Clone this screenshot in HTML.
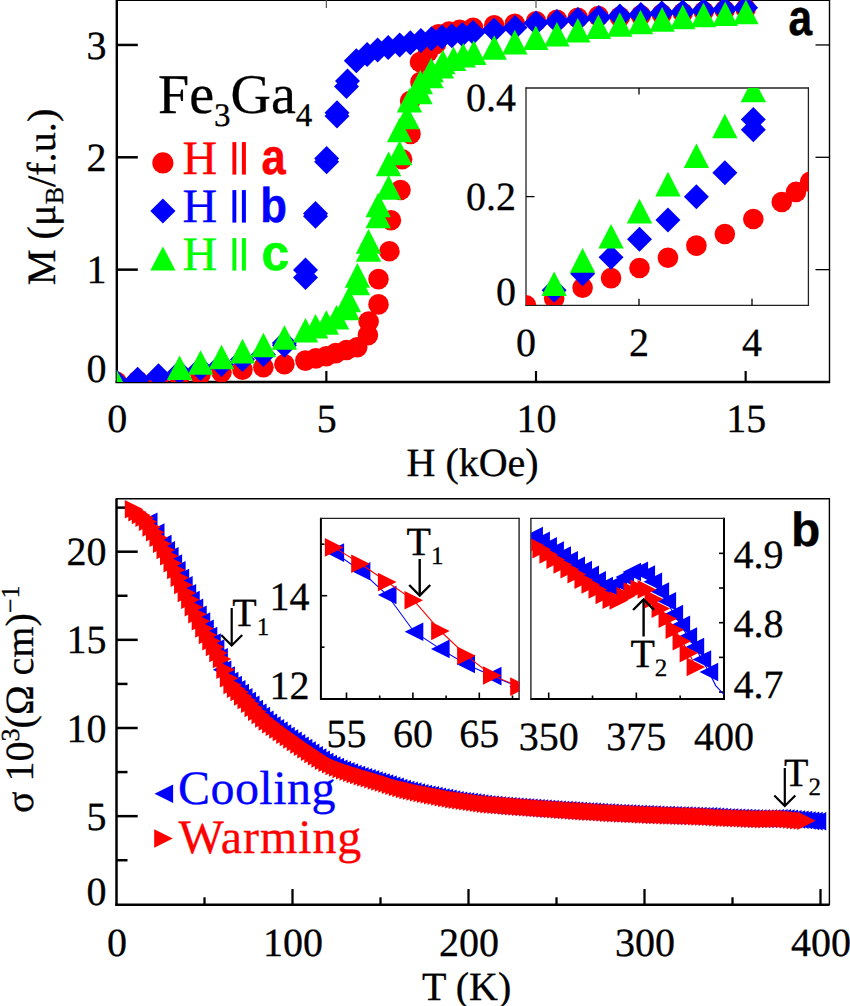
<!DOCTYPE html>
<html><head><meta charset="utf-8"><style>
html,body{margin:0;padding:0;background:#fff;}
svg{display:block;text-rendering:geometricPrecision;}
</style></head><body>
<svg width="850" height="1006" viewBox="0 0 850 1006">
<rect width="850" height="1006" fill="#fff"/>
<defs><clipPath id="ca"><rect x="116.8" y="0" width="712.7" height="382"/></clipPath><clipPath id="cai"><rect x="526" y="88" width="282.5" height="217"/></clipPath><clipPath id="cb"><rect x="116.5" y="498.5" width="712.5" height="406"/></clipPath><clipPath id="cb1"><rect x="320.9" y="518.5" width="198.2" height="180.5"/></clipPath><clipPath id="cb2"><rect x="531.2" y="518" width="192.8" height="181"/></clipPath></defs>
<line x1="116.8" y1="0" x2="116.8" y2="383.1" stroke="#000" stroke-width="2.4"/>
<line x1="115.6" y1="382" x2="830" y2="382" stroke="#000" stroke-width="2.4"/>
<line x1="829.5" y1="0" x2="829.5" y2="383" stroke="#000" stroke-width="1.4"/>
<line x1="116" y1="0.4" x2="830" y2="0.4" stroke="#000" stroke-width="1.4"/>
<line x1="116.8" y1="269.65" x2="137.8" y2="269.65" stroke="#000" stroke-width="2.5"/>
<line x1="815.5" y1="269.65" x2="829.5" y2="269.65" stroke="#000" stroke-width="1.3"/>
<line x1="116.8" y1="157.3" x2="137.8" y2="157.3" stroke="#000" stroke-width="2.5"/>
<line x1="815.5" y1="157.3" x2="829.5" y2="157.3" stroke="#000" stroke-width="1.3"/>
<line x1="116.8" y1="44.95" x2="137.8" y2="44.95" stroke="#000" stroke-width="2.5"/>
<line x1="815.5" y1="44.95" x2="829.5" y2="44.95" stroke="#000" stroke-width="1.3"/>
<line x1="326.35" y1="382" x2="326.35" y2="371" stroke="#000" stroke-width="2.2"/>
<line x1="326.35" y1="0" x2="326.35" y2="8" stroke="#555" stroke-width="1.2"/>
<line x1="536" y1="382" x2="536" y2="371" stroke="#000" stroke-width="2.2"/>
<line x1="536" y1="0" x2="536" y2="8" stroke="#555" stroke-width="1.2"/>
<line x1="745.65" y1="382" x2="745.65" y2="371" stroke="#000" stroke-width="2.2"/>
<line x1="745.65" y1="0" x2="745.65" y2="8" stroke="#555" stroke-width="1.2"/>
<g clip-path="url(#ca)">
<circle cx="116.6" cy="381.9" r="10.3" fill="#ff0000"/>
<circle cx="137.6" cy="380.9" r="10.3" fill="#ff0000"/>
<circle cx="158.6" cy="378.7" r="10.3" fill="#ff0000"/>
<circle cx="179.5" cy="376.6" r="10.3" fill="#ff0000"/>
<circle cx="200.5" cy="374.5" r="10.3" fill="#ff0000"/>
<circle cx="221.5" cy="372.3" r="10.3" fill="#ff0000"/>
<circle cx="242.5" cy="369.8" r="10.3" fill="#ff0000"/>
<circle cx="263.4" cy="367.3" r="10.3" fill="#ff0000"/>
<circle cx="284.4" cy="364.2" r="10.3" fill="#ff0000"/>
<circle cx="305.4" cy="360.6" r="10.3" fill="#ff0000"/>
<circle cx="315.9" cy="358.4" r="10.3" fill="#ff0000"/>
<circle cx="326.3" cy="356.3" r="10.3" fill="#ff0000"/>
<circle cx="335.8" cy="353.1" r="10.3" fill="#ff0000"/>
<circle cx="346.5" cy="350" r="10.3" fill="#ff0000"/>
<circle cx="357.2" cy="347.3" r="10.3" fill="#ff0000"/>
<circle cx="367.9" cy="335.1" r="10.3" fill="#ff0000"/>
<circle cx="368.6" cy="321.6" r="10.3" fill="#ff0000"/>
<circle cx="378.5" cy="304.4" r="10.3" fill="#ff0000"/>
<circle cx="378.5" cy="279.1" r="10.3" fill="#ff0000"/>
<circle cx="389.4" cy="251.2" r="10.3" fill="#ff0000"/>
<circle cx="390.9" cy="220.2" r="10.3" fill="#ff0000"/>
<circle cx="400.5" cy="190" r="10.3" fill="#ff0000"/>
<circle cx="402.1" cy="159.2" r="10.3" fill="#ff0000"/>
<circle cx="410.5" cy="133.9" r="10.3" fill="#ff0000"/>
<circle cx="410.1" cy="101" r="10.3" fill="#ff0000"/>
<circle cx="420.4" cy="82" r="10.3" fill="#ff0000"/>
<circle cx="420" cy="62" r="10.3" fill="#ff0000"/>
<circle cx="428" cy="52" r="10.3" fill="#ff0000"/>
<circle cx="436" cy="44" r="10.3" fill="#ff0000"/>
<circle cx="438.5" cy="34.4" r="10.3" fill="#ff0000"/>
<circle cx="449.1" cy="31.5" r="10.3" fill="#ff0000"/>
<circle cx="459.7" cy="29.7" r="10.3" fill="#ff0000"/>
<circle cx="473.1" cy="27.9" r="10.3" fill="#ff0000"/>
<circle cx="494.2" cy="25.3" r="10.3" fill="#ff0000"/>
<circle cx="514.8" cy="23.8" r="10.3" fill="#ff0000"/>
<circle cx="536.1" cy="21.2" r="10.3" fill="#ff0000"/>
<circle cx="556.9" cy="19.8" r="10.3" fill="#ff0000"/>
<circle cx="577.8" cy="17.9" r="10.3" fill="#ff0000"/>
<circle cx="598.4" cy="16.1" r="10.3" fill="#ff0000"/>
<circle cx="619.86" cy="16.9" r="10.3" fill="#ff0000"/>
<circle cx="640.83" cy="15.4" r="10.3" fill="#ff0000"/>
<circle cx="661.79" cy="14.1" r="10.3" fill="#ff0000"/>
<circle cx="682.75" cy="12.8" r="10.3" fill="#ff0000"/>
<circle cx="703.72" cy="11.5" r="10.3" fill="#ff0000"/>
<circle cx="724.69" cy="10.2" r="10.3" fill="#ff0000"/>
<circle cx="745.65" cy="8.7" r="10.3" fill="#ff0000"/>
<path d="M116.6 369.4L129.1 381.9L116.6 394.4L104.1 381.9Z" fill="#0000ff"/>
<path d="M137.6 366.7L150.1 379.2L137.6 391.7L125.1 379.2Z" fill="#0000ff"/>
<path d="M158.5 363.2L171 375.7L158.5 388.2L146 375.7Z" fill="#0000ff"/>
<path d="M179.5 359.7L192 372.2L179.5 384.7L167 372.2Z" fill="#0000ff"/>
<path d="M200.5 355.9L213 368.4L200.5 380.9L188 368.4Z" fill="#0000ff"/>
<path d="M221.5 351.9L234 364.4L221.5 376.9L209 364.4Z" fill="#0000ff"/>
<path d="M242.5 346.9L255 359.4L242.5 371.9L230 359.4Z" fill="#0000ff"/>
<path d="M263.4 341.9L275.9 354.4L263.4 366.9L250.9 354.4Z" fill="#0000ff"/>
<path d="M284.4 332.8L296.9 345.3L284.4 357.8L271.9 345.3Z" fill="#0000ff"/>
<path d="M284.4 330.6L296.9 343.1L284.4 355.6L271.9 343.1Z" fill="#0000ff"/>
<path d="M305.5 264.9L318 277.4L305.5 289.9L293 277.4Z" fill="#0000ff"/>
<path d="M305.5 257.4L318 269.9L305.5 282.4L293 269.9Z" fill="#0000ff"/>
<path d="M315.5 200.9L328 213.4L315.5 225.9L303 213.4Z" fill="#0000ff"/>
<path d="M315.5 203.8L328 216.3L315.5 228.8L303 216.3Z" fill="#0000ff"/>
<path d="M326.6 146.1L339.1 158.6L326.6 171.1L314.1 158.6Z" fill="#0000ff"/>
<path d="M326.6 149.3L339.1 161.8L326.6 174.3L314.1 161.8Z" fill="#0000ff"/>
<path d="M337 100.2L349.5 112.7L337 125.2L324.5 112.7Z" fill="#0000ff"/>
<path d="M337 103.5L349.5 116L337 128.5L324.5 116Z" fill="#0000ff"/>
<path d="M346.5 74L359 86.5L346.5 99L334 86.5Z" fill="#0000ff"/>
<path d="M347.5 68.5L360 81L347.5 93.5L335 81Z" fill="#0000ff"/>
<path d="M356.3 48.3L368.8 60.8L356.3 73.3L343.8 60.8Z" fill="#0000ff"/>
<path d="M367.1 42.1L379.6 54.6L367.1 67.1L354.6 54.6Z" fill="#0000ff"/>
<path d="M377.6 37.6L390.1 50.1L377.6 62.6L365.1 50.1Z" fill="#0000ff"/>
<path d="M388.2 35L400.7 47.5L388.2 60L375.7 47.5Z" fill="#0000ff"/>
<path d="M399.7 32.4L412.2 44.9L399.7 57.4L387.2 44.9Z" fill="#0000ff"/>
<path d="M410.3 30.2L422.8 42.7L410.3 55.2L397.8 42.7Z" fill="#0000ff"/>
<path d="M420.9 27.9L433.4 40.4L420.9 52.9L408.4 40.4Z" fill="#0000ff"/>
<path d="M431.5 26.2L444 38.7L431.5 51.2L419 38.7Z" fill="#0000ff"/>
<path d="M442 24.4L454.5 36.9L442 49.4L429.5 36.9Z" fill="#0000ff"/>
<path d="M451.8 23.2L464.3 35.7L451.8 48.2L439.3 35.7Z" fill="#0000ff"/>
<path d="M462.3 22.1L474.8 34.6L462.3 47.1L449.8 34.6Z" fill="#0000ff"/>
<path d="M473.1 20L485.6 32.5L473.1 45L460.6 32.5Z" fill="#0000ff"/>
<path d="M494.07 17.6L506.57 30.1L494.07 42.6L481.57 30.1Z" fill="#0000ff"/>
<path d="M515.03 15.1L527.53 27.6L515.03 40.1L502.53 27.6Z" fill="#0000ff"/>
<path d="M536 10.6L548.5 23.1L536 35.6L523.5 23.1Z" fill="#0000ff"/>
<path d="M556.97 9L569.47 21.5L556.97 34L544.47 21.5Z" fill="#0000ff"/>
<path d="M577.93 7.1L590.43 19.6L577.93 32.1L565.43 19.6Z" fill="#0000ff"/>
<path d="M598.89 5.1L611.39 17.6L598.89 30.1L586.39 17.6Z" fill="#0000ff"/>
<path d="M619.86 3.4L632.36 15.9L619.86 28.4L607.36 15.9Z" fill="#0000ff"/>
<path d="M640.83 1.9L653.33 14.4L640.83 26.9L628.33 14.4Z" fill="#0000ff"/>
<path d="M661.79 0.6L674.29 13.1L661.79 25.6L649.29 13.1Z" fill="#0000ff"/>
<path d="M682.75 -0.7L695.25 11.8L682.75 24.3L670.25 11.8Z" fill="#0000ff"/>
<path d="M703.72 -2L716.22 10.5L703.72 23L691.22 10.5Z" fill="#0000ff"/>
<path d="M724.69 -3.3L737.19 9.2L724.69 21.7L712.19 9.2Z" fill="#0000ff"/>
<path d="M745.65 -4.8L758.15 7.7L745.65 20.2L733.15 7.7Z" fill="#0000ff"/>
<path d="M116.6 369.6L129.3 394.2L103.9 394.2Z" fill="#00ff00"/>
<path d="M179.59 355.43L192.29 380.03L166.9 380.03Z" fill="#00ff00"/>
<path d="M200.56 350.23L213.26 374.83L187.86 374.83Z" fill="#00ff00"/>
<path d="M221.53 344.64L234.22 369.24L208.83 369.24Z" fill="#00ff00"/>
<path d="M242.49 338.78L255.19 363.38L229.79 363.38Z" fill="#00ff00"/>
<path d="M263.45 332.64L276.15 357.24L250.75 357.24Z" fill="#00ff00"/>
<path d="M284.42 325.19L297.12 349.79L271.72 349.79Z" fill="#00ff00"/>
<path d="M305.5 317.9L318.2 342.5L292.8 342.5Z" fill="#00ff00"/>
<path d="M315.6 314L328.3 338.6L302.9 338.6Z" fill="#00ff00"/>
<path d="M326.3 310.2L339 334.8L313.6 334.8Z" fill="#00ff00"/>
<path d="M336.5 304.9L349.2 329.5L323.8 329.5Z" fill="#00ff00"/>
<path d="M347.2 295.7L359.9 320.3L334.5 320.3Z" fill="#00ff00"/>
<path d="M348.4 287.7L361.1 312.3L335.7 312.3Z" fill="#00ff00"/>
<path d="M357.4 270.7L370.1 295.3L344.7 295.3Z" fill="#00ff00"/>
<path d="M357.4 263.1L370.1 287.7L344.7 287.7Z" fill="#00ff00"/>
<path d="M368.5 237.2L381.2 261.8L355.8 261.8Z" fill="#00ff00"/>
<path d="M368.5 229.1L381.2 253.7L355.8 253.7Z" fill="#00ff00"/>
<path d="M378.2 203.7L390.9 228.3L365.5 228.3Z" fill="#00ff00"/>
<path d="M378.2 192.7L390.9 217.3L365.5 217.3Z" fill="#00ff00"/>
<path d="M388.6 175.1L401.3 199.7L375.9 199.7Z" fill="#00ff00"/>
<path d="M388.6 151.6L401.3 176.2L375.9 176.2Z" fill="#00ff00"/>
<path d="M399.6 140.6L412.3 165.2L386.9 165.2Z" fill="#00ff00"/>
<path d="M399.6 117.7L412.3 142.3L386.9 142.3Z" fill="#00ff00"/>
<path d="M407 104.7L419.7 129.3L394.3 129.3Z" fill="#00ff00"/>
<path d="M409.5 87.9L422.2 112.5L396.8 112.5Z" fill="#00ff00"/>
<path d="M420 79.7L432.7 104.3L407.3 104.3Z" fill="#00ff00"/>
<path d="M420.3 69.7L433 94.3L407.6 94.3Z" fill="#00ff00"/>
<path d="M431 63.7L443.7 88.3L418.3 88.3Z" fill="#00ff00"/>
<path d="M431.2 57.7L443.9 82.3L418.5 82.3Z" fill="#00ff00"/>
<path d="M441.3 53.9L454 78.5L428.6 78.5Z" fill="#00ff00"/>
<path d="M442.9 49.7L455.6 74.3L430.2 74.3Z" fill="#00ff00"/>
<path d="M453.5 46.4L466.2 71L440.8 71Z" fill="#00ff00"/>
<path d="M463.2 42.9L475.9 67.5L450.5 67.5Z" fill="#00ff00"/>
<path d="M473.8 40.3L486.5 64.9L461.1 64.9Z" fill="#00ff00"/>
<path d="M494.2 35.2L506.9 59.8L481.5 59.8Z" fill="#00ff00"/>
<path d="M514.8 29.8L527.5 54.4L502.1 54.4Z" fill="#00ff00"/>
<path d="M535.8 25.4L548.5 50L523.1 50Z" fill="#00ff00"/>
<path d="M556.9 21.9L569.6 46.5L544.2 46.5Z" fill="#00ff00"/>
<path d="M577.8 18L590.5 42.6L565.1 42.6Z" fill="#00ff00"/>
<path d="M598.4 14.5L611.1 39.1L585.7 39.1Z" fill="#00ff00"/>
<path d="M619.8 12.2L632.5 36.8L607.1 36.8Z" fill="#00ff00"/>
<path d="M640.5 9.7L653.2 34.3L627.8 34.3Z" fill="#00ff00"/>
<path d="M662.1 7.1L674.8 31.7L649.4 31.7Z" fill="#00ff00"/>
<path d="M682.8 4.6L695.5 29.2L670.1 29.2Z" fill="#00ff00"/>
<path d="M703.5 2.7L716.2 27.3L690.8 27.3Z" fill="#00ff00"/>
<path d="M725.2 1.4L737.9 26L712.5 26Z" fill="#00ff00"/>
<path d="M745.9 -0.4L758.6 24.2L733.2 24.2Z" fill="#00ff00"/>
</g>
<line x1="526" y1="87.5" x2="526" y2="306" stroke="#222" stroke-width="1.3"/>
<line x1="525.5" y1="305.4" x2="809" y2="305.4" stroke="#222" stroke-width="1.3"/>
<line x1="525.5" y1="88" x2="809" y2="88" stroke="#222" stroke-width="1.3"/>
<line x1="808.4" y1="87.5" x2="808.4" y2="306" stroke="#222" stroke-width="1.3"/>
<line x1="526" y1="196.6" x2="534.5" y2="196.6" stroke="#000" stroke-width="1.3"/>
<line x1="639" y1="305.3" x2="639" y2="298.8" stroke="#000" stroke-width="1.3"/>
<line x1="639" y1="88" x2="639" y2="94.5" stroke="#000" stroke-width="1.3"/>
<line x1="752" y1="305.3" x2="752" y2="298.8" stroke="#000" stroke-width="1.3"/>
<line x1="752" y1="88" x2="752" y2="94.5" stroke="#000" stroke-width="1.3"/>
<g clip-path="url(#cai)">
<circle cx="525.8" cy="305.4" r="10.5" fill="#ff0000"/>
<circle cx="554.15" cy="298.31" r="10.3" fill="#ff0000"/>
<circle cx="582.6" cy="287.78" r="10.3" fill="#ff0000"/>
<circle cx="611.05" cy="278.1" r="10.3" fill="#ff0000"/>
<circle cx="639.5" cy="267.99" r="10.3" fill="#ff0000"/>
<circle cx="667.95" cy="257.72" r="10.3" fill="#ff0000"/>
<circle cx="696.4" cy="245.64" r="10.3" fill="#ff0000"/>
<circle cx="724.85" cy="233.94" r="10.3" fill="#ff0000"/>
<circle cx="753.3" cy="219.04" r="10.3" fill="#ff0000"/>
<circle cx="781.75" cy="202.02" r="10.3" fill="#ff0000"/>
<circle cx="795.98" cy="191.91" r="10.3" fill="#ff0000"/>
<circle cx="810.2" cy="181.8" r="10.3" fill="#ff0000"/>
<path d="M554.15 277.83L566.65 290.33L554.15 302.83L541.65 290.33Z" fill="#0000ff"/>
<path d="M582.6 261.34L595.1 273.84L582.6 286.34L570.1 273.84Z" fill="#0000ff"/>
<path d="M611.05 244.85L623.55 257.35L611.05 269.85L598.55 257.35Z" fill="#0000ff"/>
<path d="M639.5 226.76L652 239.26L639.5 251.76L627 239.26Z" fill="#0000ff"/>
<path d="M667.95 207.61L680.45 220.11L667.95 232.61L655.45 220.11Z" fill="#0000ff"/>
<path d="M696.4 184.2L708.9 196.7L696.4 209.2L683.9 196.7Z" fill="#0000ff"/>
<path d="M724.85 160.26L737.35 172.76L724.85 185.26L712.35 172.76Z" fill="#0000ff"/>
<path d="M753.3 117.17L765.8 129.67L753.3 142.17L740.8 129.67Z" fill="#0000ff"/>
<path d="M753.3 107.06L765.8 119.56L753.3 132.06L740.8 119.56Z" fill="#0000ff"/>
<path d="M554.15 271.49L566.85 296.09L541.45 296.09Z" fill="#00ff00"/>
<path d="M582.6 248.08L595.3 272.68L569.9 272.68Z" fill="#00ff00"/>
<path d="M611.05 223.98L623.75 248.58L598.35 248.58Z" fill="#00ff00"/>
<path d="M639.5 198.82L652.2 223.42L626.8 223.42Z" fill="#00ff00"/>
<path d="M667.95 171.79L680.65 196.39L655.25 196.39Z" fill="#00ff00"/>
<path d="M696.4 143.44L709.1 168.04L683.7 168.04Z" fill="#00ff00"/>
<path d="M724.85 113.7L737.55 138.3L712.15 138.3Z" fill="#00ff00"/>
<path d="M753.3 77.68L766 102.28L740.6 102.28Z" fill="#00ff00"/>
</g>
<line x1="116.5" y1="498.5" x2="116.5" y2="906" stroke="#000" stroke-width="2.5"/>
<line x1="115.3" y1="904.8" x2="829.5" y2="904.8" stroke="#000" stroke-width="2.5"/>
<line x1="829.4" y1="498.5" x2="829.4" y2="905" stroke="#000" stroke-width="1.4"/>
<line x1="116" y1="498.8" x2="830" y2="498.8" stroke="#000" stroke-width="1.4"/>
<line x1="116.5" y1="816.15" x2="137.7" y2="816.15" stroke="#000" stroke-width="2.5"/>
<line x1="116.5" y1="728" x2="137.7" y2="728" stroke="#000" stroke-width="2.5"/>
<line x1="116.5" y1="639.85" x2="137.7" y2="639.85" stroke="#000" stroke-width="2.5"/>
<line x1="116.5" y1="551.7" x2="137.7" y2="551.7" stroke="#000" stroke-width="2.5"/>
<line x1="116.5" y1="860.22" x2="127.5" y2="860.22" stroke="#000" stroke-width="2.5"/>
<line x1="116.5" y1="772.07" x2="127.5" y2="772.07" stroke="#000" stroke-width="2.5"/>
<line x1="116.5" y1="683.92" x2="127.5" y2="683.92" stroke="#000" stroke-width="2.5"/>
<line x1="116.5" y1="595.77" x2="127.5" y2="595.77" stroke="#000" stroke-width="2.5"/>
<line x1="116.5" y1="507.62" x2="127.5" y2="507.62" stroke="#000" stroke-width="2.5"/>
<line x1="292.5" y1="904.8" x2="292.5" y2="889" stroke="#000" stroke-width="2.3"/>
<line x1="468.5" y1="904.8" x2="468.5" y2="889" stroke="#000" stroke-width="2.3"/>
<line x1="644.5" y1="904.8" x2="644.5" y2="889" stroke="#000" stroke-width="2.3"/>
<line x1="820.5" y1="904.8" x2="820.5" y2="889" stroke="#000" stroke-width="2.3"/>
<line x1="204.5" y1="904.8" x2="204.5" y2="897.3" stroke="#000" stroke-width="2.3"/>
<line x1="380.5" y1="904.8" x2="380.5" y2="897.3" stroke="#000" stroke-width="2.3"/>
<line x1="556.5" y1="904.8" x2="556.5" y2="897.3" stroke="#000" stroke-width="2.3"/>
<line x1="732.5" y1="904.8" x2="732.5" y2="897.3" stroke="#000" stroke-width="2.3"/>
<g clip-path="url(#cb)">
<path d="M157.48 512.53L138.88 521.83L157.48 531.13Z" fill="#0000ff"/>
<path d="M164.52 523.17L145.92 532.47L164.52 541.77Z" fill="#0000ff"/>
<path d="M171.56 534.64L152.96 543.94L171.56 553.24Z" fill="#0000ff"/>
<path d="M175.08 540.95L156.48 550.25L175.08 559.55Z" fill="#0000ff"/>
<path d="M178.6 547.07L160 556.37L178.6 565.67Z" fill="#0000ff"/>
<path d="M182.12 554.14L163.52 563.44L182.12 572.74Z" fill="#0000ff"/>
<path d="M185.64 561.09L167.04 570.39L185.64 579.69Z" fill="#0000ff"/>
<path d="M189.16 568.84L170.56 578.14L189.16 587.44Z" fill="#0000ff"/>
<path d="M192.68 576.08L174.08 585.38L192.68 594.68Z" fill="#0000ff"/>
<path d="M196.2 584.03L177.6 593.33L196.2 602.63Z" fill="#0000ff"/>
<path d="M199.72 590.78L181.12 600.08L199.72 609.38Z" fill="#0000ff"/>
<path d="M203.24 598.38L184.64 607.68L203.24 616.98Z" fill="#0000ff"/>
<path d="M206.76 605.46L188.16 614.76L206.76 624.06Z" fill="#0000ff"/>
<path d="M210.28 612.37L191.68 621.67L210.28 630.97Z" fill="#0000ff"/>
<path d="M213.8 619.61L195.2 628.91L213.8 638.21Z" fill="#0000ff"/>
<path d="M217.32 626.67L198.72 635.97L217.32 645.27Z" fill="#0000ff"/>
<path d="M220.84 633.37L202.24 642.67L220.84 651.97Z" fill="#0000ff"/>
<path d="M224.36 639.37L205.76 648.66L224.36 657.96Z" fill="#0000ff"/>
<path d="M227.88 648L209.28 657.3L227.88 666.6Z" fill="#0000ff"/>
<path d="M231.4 660.52L212.8 669.82L231.4 679.12Z" fill="#0000ff"/>
<path d="M234.92 666.34L216.32 675.64L234.92 684.94Z" fill="#0000ff"/>
<path d="M238.44 671.63L219.84 680.93L238.44 690.23Z" fill="#0000ff"/>
<path d="M241.96 675.86L223.36 685.16L241.96 694.46Z" fill="#0000ff"/>
<path d="M245.48 679.91L226.88 689.21L245.48 698.51Z" fill="#0000ff"/>
<path d="M249 683.63L230.4 692.93L249 702.23Z" fill="#0000ff"/>
<path d="M252.52 687.99L233.92 697.29L252.52 706.59Z" fill="#0000ff"/>
<path d="M256.04 691.66L237.44 700.96L256.04 710.26Z" fill="#0000ff"/>
<path d="M259.56 695.55L240.96 704.85L259.56 714.15Z" fill="#0000ff"/>
<path d="M263.08 699.64L244.48 708.94L263.08 718.24Z" fill="#0000ff"/>
<path d="M266.6 703.44L248 712.74L266.6 722.04Z" fill="#0000ff"/>
<path d="M270.12 706.86L251.52 716.16L270.12 725.46Z" fill="#0000ff"/>
<path d="M273.64 710.43L255.04 719.73L273.64 729.03Z" fill="#0000ff"/>
<path d="M277.16 713.39L258.56 722.69L277.16 731.99Z" fill="#0000ff"/>
<path d="M280.68 716.18L262.08 725.48L280.68 734.78Z" fill="#0000ff"/>
<path d="M284.2 718.88L265.6 728.18L284.2 737.48Z" fill="#0000ff"/>
<path d="M287.72 721.51L269.12 730.81L287.72 740.11Z" fill="#0000ff"/>
<path d="M291.24 724.15L272.64 733.45L291.24 742.75Z" fill="#0000ff"/>
<path d="M294.76 726.68L276.16 735.98L294.76 745.28Z" fill="#0000ff"/>
<path d="M298.28 729.13L279.68 738.43L298.28 747.73Z" fill="#0000ff"/>
<path d="M301.8 731.59L283.2 740.89L301.8 750.19Z" fill="#0000ff"/>
<path d="M305.32 734.05L286.72 743.35L305.32 752.65Z" fill="#0000ff"/>
<path d="M308.84 736.47L290.24 745.77L308.84 755.07Z" fill="#0000ff"/>
<path d="M312.36 738.85L293.76 748.15L312.36 757.45Z" fill="#0000ff"/>
<path d="M315.88 741.23L297.28 750.53L315.88 759.83Z" fill="#0000ff"/>
<path d="M319.4 743.62L300.8 752.92L319.4 762.22Z" fill="#0000ff"/>
<path d="M322.92 745.95L304.32 755.25L322.92 764.55Z" fill="#0000ff"/>
<path d="M326.44 748.23L307.84 757.53L326.44 766.83Z" fill="#0000ff"/>
<path d="M329.96 750.51L311.36 759.81L329.96 769.11Z" fill="#0000ff"/>
<path d="M333.48 752.79L314.88 762.09L333.48 771.39Z" fill="#0000ff"/>
<path d="M337 754.69L318.4 763.99L337 773.29Z" fill="#0000ff"/>
<path d="M340.52 756.27L321.92 765.57L340.52 774.87Z" fill="#0000ff"/>
<path d="M344.04 757.84L325.44 767.14L344.04 776.44Z" fill="#0000ff"/>
<path d="M347.56 759.42L328.96 768.72L347.56 778.02Z" fill="#0000ff"/>
<path d="M351.08 760.83L332.48 770.13L351.08 779.43Z" fill="#0000ff"/>
<path d="M354.6 762.1L336 771.4L354.6 780.7Z" fill="#0000ff"/>
<path d="M358.12 763.36L339.52 772.66L358.12 781.96Z" fill="#0000ff"/>
<path d="M361.64 764.63L343.04 773.93L361.64 783.23Z" fill="#0000ff"/>
<path d="M365.16 765.8L346.56 775.1L365.16 784.4Z" fill="#0000ff"/>
<path d="M368.68 766.88L350.08 776.18L368.68 785.48Z" fill="#0000ff"/>
<path d="M372.2 767.95L353.6 777.25L372.2 786.55Z" fill="#0000ff"/>
<path d="M375.72 769.03L357.12 778.33L375.72 787.63Z" fill="#0000ff"/>
<path d="M379.24 770.1L360.64 779.4L379.24 788.7Z" fill="#0000ff"/>
<path d="M382.76 771.14L364.16 780.44L382.76 789.74Z" fill="#0000ff"/>
<path d="M386.28 772.19L367.68 781.49L386.28 790.79Z" fill="#0000ff"/>
<path d="M389.8 773.24L371.2 782.54L389.8 791.84Z" fill="#0000ff"/>
<path d="M393.32 774.29L374.72 783.59L393.32 792.89Z" fill="#0000ff"/>
<path d="M396.84 775.34L378.24 784.64L396.84 793.94Z" fill="#0000ff"/>
<path d="M400.36 776.43L381.76 785.73L400.36 795.03Z" fill="#0000ff"/>
<path d="M403.88 777.57L385.28 786.87L403.88 796.17Z" fill="#0000ff"/>
<path d="M407.4 778.7L388.8 788L407.4 797.3Z" fill="#0000ff"/>
<path d="M410.92 779.84L392.32 789.14L410.92 798.44Z" fill="#0000ff"/>
<path d="M414.44 780.8L395.84 790.1L414.44 799.4Z" fill="#0000ff"/>
<path d="M417.96 781.58L399.36 790.88L417.96 800.18Z" fill="#0000ff"/>
<path d="M421.48 782.36L402.88 791.66L421.48 800.96Z" fill="#0000ff"/>
<path d="M425 783.14L406.4 792.44L425 801.74Z" fill="#0000ff"/>
<path d="M428.52 783.92L409.92 793.22L428.52 802.52Z" fill="#0000ff"/>
<path d="M432.04 784.69L413.44 793.99L432.04 803.29Z" fill="#0000ff"/>
<path d="M435.56 785.38L416.96 794.68L435.56 803.98Z" fill="#0000ff"/>
<path d="M439.08 786.07L420.48 795.37L439.08 804.67Z" fill="#0000ff"/>
<path d="M442.6 786.75L424 796.05L442.6 805.35Z" fill="#0000ff"/>
<path d="M446.12 787.44L427.52 796.74L446.12 806.04Z" fill="#0000ff"/>
<path d="M449.64 788.13L431.04 797.43L449.64 806.73Z" fill="#0000ff"/>
<path d="M453.16 788.82L434.56 798.12L453.16 807.42Z" fill="#0000ff"/>
<path d="M456.68 789.51L438.08 798.81L456.68 808.11Z" fill="#0000ff"/>
<path d="M460.2 790.19L441.6 799.49L460.2 808.79Z" fill="#0000ff"/>
<path d="M463.72 790.88L445.12 800.18L463.72 809.48Z" fill="#0000ff"/>
<path d="M467.24 791.4L448.64 800.7L467.24 810Z" fill="#0000ff"/>
<path d="M470.76 791.88L452.16 801.18L470.76 810.48Z" fill="#0000ff"/>
<path d="M474.28 792.37L455.68 801.67L474.28 810.97Z" fill="#0000ff"/>
<path d="M477.8 792.85L459.2 802.15L477.8 811.45Z" fill="#0000ff"/>
<path d="M481.32 793.32L462.72 802.62L481.32 811.92Z" fill="#0000ff"/>
<path d="M484.84 793.79L466.24 803.09L484.84 812.39Z" fill="#0000ff"/>
<path d="M488.36 794.26L469.76 803.56L488.36 812.86Z" fill="#0000ff"/>
<path d="M491.88 794.74L473.28 804.04L491.88 813.34Z" fill="#0000ff"/>
<path d="M495.4 795.21L476.8 804.51L495.4 813.81Z" fill="#0000ff"/>
<path d="M498.92 795.59L480.32 804.89L498.92 814.19Z" fill="#0000ff"/>
<path d="M502.44 795.86L483.84 805.16L502.44 814.46Z" fill="#0000ff"/>
<path d="M505.96 796.13L487.36 805.43L505.96 814.73Z" fill="#0000ff"/>
<path d="M509.48 796.4L490.88 805.7L509.48 815Z" fill="#0000ff"/>
<path d="M513 796.66L494.4 805.96L513 815.26Z" fill="#0000ff"/>
<path d="M516.52 796.93L497.92 806.23L516.52 815.53Z" fill="#0000ff"/>
<path d="M520.04 797.2L501.44 806.5L520.04 815.8Z" fill="#0000ff"/>
<path d="M523.56 797.47L504.96 806.77L523.56 816.07Z" fill="#0000ff"/>
<path d="M527.08 797.74L508.48 807.04L527.08 816.34Z" fill="#0000ff"/>
<path d="M530.6 798.01L512 807.31L530.6 816.61Z" fill="#0000ff"/>
<path d="M534.12 798.28L515.52 807.58L534.12 816.88Z" fill="#0000ff"/>
<path d="M537.64 798.55L519.04 807.85L537.64 817.15Z" fill="#0000ff"/>
<path d="M541.16 798.79L522.56 808.09L541.16 817.39Z" fill="#0000ff"/>
<path d="M544.68 799.02L526.08 808.32L544.68 817.62Z" fill="#0000ff"/>
<path d="M548.2 799.25L529.6 808.55L548.2 817.85Z" fill="#0000ff"/>
<path d="M551.72 799.48L533.12 808.78L551.72 818.08Z" fill="#0000ff"/>
<path d="M555.24 799.71L536.64 809.01L555.24 818.31Z" fill="#0000ff"/>
<path d="M558.76 799.94L540.16 809.24L558.76 818.54Z" fill="#0000ff"/>
<path d="M562.28 800.17L543.68 809.47L562.28 818.77Z" fill="#0000ff"/>
<path d="M565.8 800.4L547.2 809.7L565.8 819Z" fill="#0000ff"/>
<path d="M569.32 800.63L550.72 809.93L569.32 819.23Z" fill="#0000ff"/>
<path d="M572.84 800.87L554.24 810.17L572.84 819.47Z" fill="#0000ff"/>
<path d="M576.36 801.1L557.76 810.4L576.36 819.7Z" fill="#0000ff"/>
<path d="M579.88 801.33L561.28 810.63L579.88 819.93Z" fill="#0000ff"/>
<path d="M583.4 801.54L564.8 810.84L583.4 820.14Z" fill="#0000ff"/>
<path d="M586.92 801.74L568.32 811.04L586.92 820.34Z" fill="#0000ff"/>
<path d="M590.44 801.94L571.84 811.24L590.44 820.54Z" fill="#0000ff"/>
<path d="M593.96 802.14L575.36 811.44L593.96 820.74Z" fill="#0000ff"/>
<path d="M597.48 802.35L578.88 811.65L597.48 820.95Z" fill="#0000ff"/>
<path d="M601 802.55L582.4 811.85L601 821.15Z" fill="#0000ff"/>
<path d="M604.52 802.75L585.92 812.05L604.52 821.35Z" fill="#0000ff"/>
<path d="M608.04 802.95L589.44 812.25L608.04 821.55Z" fill="#0000ff"/>
<path d="M611.56 803.15L592.96 812.45L611.56 821.75Z" fill="#0000ff"/>
<path d="M615.08 803.35L596.48 812.65L615.08 821.95Z" fill="#0000ff"/>
<path d="M618.6 803.56L600 812.86L618.6 822.16Z" fill="#0000ff"/>
<path d="M622.12 803.76L603.52 813.06L622.12 822.36Z" fill="#0000ff"/>
<path d="M625.64 803.92L607.04 813.22L625.64 822.52Z" fill="#0000ff"/>
<path d="M629.16 804.07L610.56 813.37L629.16 822.67Z" fill="#0000ff"/>
<path d="M632.68 804.21L614.08 813.51L632.68 822.81Z" fill="#0000ff"/>
<path d="M636.2 804.35L617.6 813.65L636.2 822.95Z" fill="#0000ff"/>
<path d="M639.72 804.5L621.12 813.8L639.72 823.1Z" fill="#0000ff"/>
<path d="M643.24 804.64L624.64 813.94L643.24 823.24Z" fill="#0000ff"/>
<path d="M646.76 804.78L628.16 814.08L646.76 823.38Z" fill="#0000ff"/>
<path d="M650.28 804.93L631.68 814.23L650.28 823.53Z" fill="#0000ff"/>
<path d="M653.8 805.07L635.2 814.37L653.8 823.67Z" fill="#0000ff"/>
<path d="M657.32 805.22L638.72 814.52L657.32 823.82Z" fill="#0000ff"/>
<path d="M660.84 805.36L642.24 814.66L660.84 823.96Z" fill="#0000ff"/>
<path d="M664.36 805.51L645.76 814.81L664.36 824.11Z" fill="#0000ff"/>
<path d="M667.88 805.63L649.28 814.93L667.88 824.23Z" fill="#0000ff"/>
<path d="M671.4 805.74L652.8 815.04L671.4 824.34Z" fill="#0000ff"/>
<path d="M674.92 805.84L656.32 815.14L674.92 824.44Z" fill="#0000ff"/>
<path d="M678.44 805.95L659.84 815.25L678.44 824.55Z" fill="#0000ff"/>
<path d="M681.96 806.05L663.36 815.35L681.96 824.65Z" fill="#0000ff"/>
<path d="M685.48 806.16L666.88 815.46L685.48 824.76Z" fill="#0000ff"/>
<path d="M689 806.26L670.4 815.56L689 824.86Z" fill="#0000ff"/>
<path d="M692.52 806.36L673.92 815.66L692.52 824.96Z" fill="#0000ff"/>
<path d="M696.04 806.47L677.44 815.77L696.04 825.07Z" fill="#0000ff"/>
<path d="M699.56 806.57L680.96 815.87L699.56 825.17Z" fill="#0000ff"/>
<path d="M703.08 806.68L684.48 815.98L703.08 825.28Z" fill="#0000ff"/>
<path d="M706.6 806.78L688 816.08L706.6 825.38Z" fill="#0000ff"/>
<path d="M710.12 806.89L691.52 816.19L710.12 825.49Z" fill="#0000ff"/>
<path d="M713.64 806.99L695.04 816.29L713.64 825.59Z" fill="#0000ff"/>
<path d="M717.16 807.09L698.56 816.39L717.16 825.69Z" fill="#0000ff"/>
<path d="M720.68 807.27L702.08 816.57L720.68 825.87Z" fill="#0000ff"/>
<path d="M724.2 807.49L705.6 816.79L724.2 826.09Z" fill="#0000ff"/>
<path d="M727.72 807.74L709.12 817.04L727.72 826.34Z" fill="#0000ff"/>
<path d="M731.24 807.99L712.64 817.29L731.24 826.59Z" fill="#0000ff"/>
<path d="M734.76 808.18L716.16 817.48L734.76 826.78Z" fill="#0000ff"/>
<path d="M738.28 808.31L719.68 817.61L738.28 826.91Z" fill="#0000ff"/>
<path d="M741.8 808.44L723.2 817.74L741.8 827.04Z" fill="#0000ff"/>
<path d="M745.32 808.56L726.72 817.86L745.32 827.16Z" fill="#0000ff"/>
<path d="M748.84 808.68L730.24 817.98L748.84 827.28Z" fill="#0000ff"/>
<path d="M752.36 808.81L733.76 818.11L752.36 827.41Z" fill="#0000ff"/>
<path d="M755.88 808.93L737.28 818.23L755.88 827.53Z" fill="#0000ff"/>
<path d="M759.4 809.05L740.8 818.35L759.4 827.65Z" fill="#0000ff"/>
<path d="M762.92 809.13L744.32 818.43L762.92 827.73Z" fill="#0000ff"/>
<path d="M766.44 809.21L747.84 818.51L766.44 827.81Z" fill="#0000ff"/>
<path d="M769.96 809.33L751.36 818.63L769.96 827.93Z" fill="#0000ff"/>
<path d="M773.48 809.49L754.88 818.79L773.48 828.09Z" fill="#0000ff"/>
<path d="M777 809.34L758.4 818.64L777 827.94Z" fill="#0000ff"/>
<path d="M780.52 809.18L761.92 818.48L780.52 827.78Z" fill="#0000ff"/>
<path d="M784.04 809.12L765.44 818.42L784.04 827.72Z" fill="#0000ff"/>
<path d="M787.56 809.05L768.96 818.35L787.56 827.65Z" fill="#0000ff"/>
<path d="M791.08 809.12L772.48 818.42L791.08 827.72Z" fill="#0000ff"/>
<path d="M794.6 809.32L776 818.62L794.6 827.92Z" fill="#0000ff"/>
<path d="M798.12 809.6L779.52 818.9L798.12 828.2Z" fill="#0000ff"/>
<path d="M801.64 809.88L783.04 819.18L801.64 828.48Z" fill="#0000ff"/>
<path d="M805.16 810.16L786.56 819.46L805.16 828.76Z" fill="#0000ff"/>
<path d="M808.68 810.45L790.08 819.75L808.68 829.05Z" fill="#0000ff"/>
<path d="M812.2 810.73L793.6 820.03L812.2 829.33Z" fill="#0000ff"/>
<path d="M815.72 811.19L797.12 820.49L815.72 829.79Z" fill="#0000ff"/>
<path d="M819.24 811.56L800.64 820.86L819.24 830.16Z" fill="#0000ff"/>
<path d="M822.76 811.82L804.16 821.12L822.76 830.42Z" fill="#0000ff"/>
<path d="M826.28 811.98L807.68 821.28L826.28 830.58Z" fill="#0000ff"/>
<path d="M124.8 499.91L143.4 509.21L124.8 518.51Z" fill="#ff0000"/>
<path d="M128.32 502.91L146.92 512.21L128.32 521.51Z" fill="#ff0000"/>
<path d="M131.84 505.73L150.44 515.03L131.84 524.33Z" fill="#ff0000"/>
<path d="M135.36 508.37L153.96 517.67L135.36 526.97Z" fill="#ff0000"/>
<path d="M138.88 512.43L157.48 521.73L138.88 531.03Z" fill="#ff0000"/>
<path d="M142.4 518.04L161 527.34L142.4 536.64Z" fill="#ff0000"/>
<path d="M145.92 523.02L164.52 532.32L145.92 541.62Z" fill="#ff0000"/>
<path d="M149.44 528.42L168.04 537.72L149.44 547.02Z" fill="#ff0000"/>
<path d="M152.96 534.43L171.56 543.73L152.96 553.03Z" fill="#ff0000"/>
<path d="M156.48 540.71L175.08 550.01L156.48 559.31Z" fill="#ff0000"/>
<path d="M160 546.81L178.6 556.11L160 565.41Z" fill="#ff0000"/>
<path d="M163.52 553.85L182.12 563.15L163.52 572.45Z" fill="#ff0000"/>
<path d="M167.04 560.77L185.64 570.07L167.04 579.37Z" fill="#ff0000"/>
<path d="M170.56 568.5L189.16 577.8L170.56 587.1Z" fill="#ff0000"/>
<path d="M174.08 575.71L192.68 585.01L174.08 594.31Z" fill="#ff0000"/>
<path d="M177.6 583.64L196.2 592.94L177.6 602.24Z" fill="#ff0000"/>
<path d="M181.12 590.35L199.72 599.65L181.12 608.95Z" fill="#ff0000"/>
<path d="M184.64 597.93L203.24 607.23L184.64 616.53Z" fill="#ff0000"/>
<path d="M188.16 604.99L206.76 614.29L188.16 623.59Z" fill="#ff0000"/>
<path d="M191.68 611.87L210.28 621.17L191.68 630.47Z" fill="#ff0000"/>
<path d="M195.2 619.08L213.8 628.38L195.2 637.68Z" fill="#ff0000"/>
<path d="M198.72 625.61L217.32 634.91L198.72 644.21Z" fill="#ff0000"/>
<path d="M202.24 631.78L220.84 641.08L202.24 650.38Z" fill="#ff0000"/>
<path d="M205.76 637.6L224.36 646.9L205.76 656.2Z" fill="#ff0000"/>
<path d="M209.28 643.6L227.88 652.9L209.28 662.2Z" fill="#ff0000"/>
<path d="M212.8 649.77L231.4 659.07L212.8 668.37Z" fill="#ff0000"/>
<path d="M216.32 660.52L234.92 669.82L216.32 679.12Z" fill="#ff0000"/>
<path d="M219.84 668.98L238.44 678.28L219.84 687.58Z" fill="#ff0000"/>
<path d="M223.36 675.68L241.96 684.98L223.36 694.28Z" fill="#ff0000"/>
<path d="M226.88 679.39L245.48 688.69L226.88 697.99Z" fill="#ff0000"/>
<path d="M230.4 682.75L249 692.05L230.4 701.35Z" fill="#ff0000"/>
<path d="M233.92 687.05L252.52 696.35L233.92 705.65Z" fill="#ff0000"/>
<path d="M237.44 690.67L256.04 699.97L237.44 709.27Z" fill="#ff0000"/>
<path d="M240.96 694.51L259.56 703.81L240.96 713.11Z" fill="#ff0000"/>
<path d="M244.48 698.55L263.08 707.85L244.48 717.15Z" fill="#ff0000"/>
<path d="M248 702.29L266.6 711.59L248 720.89Z" fill="#ff0000"/>
<path d="M251.52 705.66L270.12 714.96L251.52 724.26Z" fill="#ff0000"/>
<path d="M255.04 709.18L273.64 718.48L255.04 727.78Z" fill="#ff0000"/>
<path d="M258.56 712.09L277.16 721.39L258.56 730.69Z" fill="#ff0000"/>
<path d="M262.08 714.82L280.68 724.12L262.08 733.42Z" fill="#ff0000"/>
<path d="M265.6 717.47L284.2 726.77L265.6 736.07Z" fill="#ff0000"/>
<path d="M269.12 720.11L287.72 729.41L269.12 738.71Z" fill="#ff0000"/>
<path d="M272.64 722.75L291.24 732.05L272.64 741.35Z" fill="#ff0000"/>
<path d="M276.16 725.29L294.76 734.59L276.16 743.89Z" fill="#ff0000"/>
<path d="M279.68 727.76L298.28 737.06L279.68 746.36Z" fill="#ff0000"/>
<path d="M283.2 730.23L301.8 739.53L283.2 748.83Z" fill="#ff0000"/>
<path d="M286.72 732.7L305.32 742L286.72 751.3Z" fill="#ff0000"/>
<path d="M290.24 735.12L308.84 744.42L290.24 753.72Z" fill="#ff0000"/>
<path d="M293.76 737.52L312.36 746.82L293.76 756.12Z" fill="#ff0000"/>
<path d="M297.28 739.91L315.88 749.21L297.28 758.51Z" fill="#ff0000"/>
<path d="M300.8 742.3L319.4 751.6L300.8 760.9Z" fill="#ff0000"/>
<path d="M304.32 744.64L322.92 753.94L304.32 763.24Z" fill="#ff0000"/>
<path d="M307.84 746.93L326.44 756.23L307.84 765.53Z" fill="#ff0000"/>
<path d="M311.36 749.23L329.96 758.53L311.36 767.83Z" fill="#ff0000"/>
<path d="M314.88 751.52L333.48 760.82L314.88 770.12Z" fill="#ff0000"/>
<path d="M318.4 753.42L337 762.72L318.4 772.02Z" fill="#ff0000"/>
<path d="M321.92 755.01L340.52 764.31L321.92 773.61Z" fill="#ff0000"/>
<path d="M325.44 756.6L344.04 765.9L325.44 775.2Z" fill="#ff0000"/>
<path d="M328.96 758.18L347.56 767.48L328.96 776.78Z" fill="#ff0000"/>
<path d="M332.48 759.6L351.08 768.9L332.48 778.2Z" fill="#ff0000"/>
<path d="M336 760.88L354.6 770.18L336 779.48Z" fill="#ff0000"/>
<path d="M339.52 762.16L358.12 771.46L339.52 780.76Z" fill="#ff0000"/>
<path d="M343.04 763.43L361.64 772.73L343.04 782.03Z" fill="#ff0000"/>
<path d="M346.56 764.61L365.16 773.91L346.56 783.21Z" fill="#ff0000"/>
<path d="M350.08 765.7L368.68 775L350.08 784.3Z" fill="#ff0000"/>
<path d="M353.6 766.78L372.2 776.08L353.6 785.38Z" fill="#ff0000"/>
<path d="M357.12 767.87L375.72 777.17L357.12 786.47Z" fill="#ff0000"/>
<path d="M360.64 768.95L379.24 778.25L360.64 787.55Z" fill="#ff0000"/>
<path d="M364.16 770L382.76 779.3L364.16 788.6Z" fill="#ff0000"/>
<path d="M367.68 771.06L386.28 780.36L367.68 789.66Z" fill="#ff0000"/>
<path d="M371.2 772.12L389.8 781.42L371.2 790.72Z" fill="#ff0000"/>
<path d="M374.72 773.18L393.32 782.48L374.72 791.78Z" fill="#ff0000"/>
<path d="M378.24 774.23L396.84 783.53L378.24 792.83Z" fill="#ff0000"/>
<path d="M381.76 775.34L400.36 784.64L381.76 793.94Z" fill="#ff0000"/>
<path d="M385.28 776.48L403.88 785.78L385.28 795.08Z" fill="#ff0000"/>
<path d="M388.8 777.63L407.4 786.93L388.8 796.23Z" fill="#ff0000"/>
<path d="M392.32 778.77L410.92 788.07L392.32 797.37Z" fill="#ff0000"/>
<path d="M395.84 779.74L414.44 789.04L395.84 798.34Z" fill="#ff0000"/>
<path d="M399.36 780.53L417.96 789.83L399.36 799.13Z" fill="#ff0000"/>
<path d="M402.88 781.32L421.48 790.62L402.88 799.92Z" fill="#ff0000"/>
<path d="M406.4 782.12L425 791.42L406.4 800.72Z" fill="#ff0000"/>
<path d="M409.92 782.91L428.52 792.21L409.92 801.51Z" fill="#ff0000"/>
<path d="M413.44 783.68L432.04 792.98L413.44 802.28Z" fill="#ff0000"/>
<path d="M416.96 784.38L435.56 793.68L416.96 802.98Z" fill="#ff0000"/>
<path d="M420.48 785.08L439.08 794.38L420.48 803.68Z" fill="#ff0000"/>
<path d="M424 785.78L442.6 795.08L424 804.38Z" fill="#ff0000"/>
<path d="M427.52 786.47L446.12 795.77L427.52 805.07Z" fill="#ff0000"/>
<path d="M431.04 787.17L449.64 796.47L431.04 805.77Z" fill="#ff0000"/>
<path d="M434.56 787.87L453.16 797.17L434.56 806.47Z" fill="#ff0000"/>
<path d="M438.08 788.57L456.68 797.87L438.08 807.17Z" fill="#ff0000"/>
<path d="M441.6 789.26L460.2 798.56L441.6 807.86Z" fill="#ff0000"/>
<path d="M445.12 789.96L463.72 799.26L445.12 808.56Z" fill="#ff0000"/>
<path d="M448.64 790.49L467.24 799.79L448.64 809.09Z" fill="#ff0000"/>
<path d="M452.16 790.98L470.76 800.28L452.16 809.58Z" fill="#ff0000"/>
<path d="M455.68 791.47L474.28 800.77L455.68 810.07Z" fill="#ff0000"/>
<path d="M459.2 791.96L477.8 801.26L459.2 810.56Z" fill="#ff0000"/>
<path d="M462.72 792.45L481.32 801.75L462.72 811.05Z" fill="#ff0000"/>
<path d="M466.24 792.94L484.84 802.24L466.24 811.54Z" fill="#ff0000"/>
<path d="M469.76 793.44L488.36 802.74L469.76 812.04Z" fill="#ff0000"/>
<path d="M473.28 793.93L491.88 803.23L473.28 812.53Z" fill="#ff0000"/>
<path d="M476.8 794.42L495.4 803.72L476.8 813.02Z" fill="#ff0000"/>
<path d="M480.32 794.81L498.92 804.11L480.32 813.41Z" fill="#ff0000"/>
<path d="M483.84 795.1L502.44 804.4L483.84 813.7Z" fill="#ff0000"/>
<path d="M487.36 795.39L505.96 804.69L487.36 813.99Z" fill="#ff0000"/>
<path d="M490.88 795.67L509.48 804.97L490.88 814.27Z" fill="#ff0000"/>
<path d="M494.4 795.96L513 805.26L494.4 814.56Z" fill="#ff0000"/>
<path d="M497.92 796.25L516.52 805.55L497.92 814.85Z" fill="#ff0000"/>
<path d="M501.44 796.53L520.04 805.83L501.44 815.13Z" fill="#ff0000"/>
<path d="M504.96 796.82L523.56 806.12L504.96 815.42Z" fill="#ff0000"/>
<path d="M508.48 797.1L527.08 806.4L508.48 815.7Z" fill="#ff0000"/>
<path d="M512 797.39L530.6 806.69L512 815.99Z" fill="#ff0000"/>
<path d="M515.52 797.68L534.12 806.98L515.52 816.28Z" fill="#ff0000"/>
<path d="M519.04 797.96L537.64 807.26L519.04 816.56Z" fill="#ff0000"/>
<path d="M522.56 798.22L541.16 807.52L522.56 816.82Z" fill="#ff0000"/>
<path d="M526.08 798.47L544.68 807.77L526.08 817.07Z" fill="#ff0000"/>
<path d="M529.6 798.72L548.2 808.02L529.6 817.32Z" fill="#ff0000"/>
<path d="M533.12 798.97L551.72 808.27L533.12 817.57Z" fill="#ff0000"/>
<path d="M536.64 799.22L555.24 808.52L536.64 817.82Z" fill="#ff0000"/>
<path d="M540.16 799.47L558.76 808.77L540.16 818.07Z" fill="#ff0000"/>
<path d="M543.68 799.71L562.28 809.01L543.68 818.31Z" fill="#ff0000"/>
<path d="M547.2 799.96L565.8 809.26L547.2 818.56Z" fill="#ff0000"/>
<path d="M550.72 800.21L569.32 809.51L550.72 818.81Z" fill="#ff0000"/>
<path d="M554.24 800.46L572.84 809.76L554.24 819.06Z" fill="#ff0000"/>
<path d="M557.76 800.71L576.36 810.01L557.76 819.31Z" fill="#ff0000"/>
<path d="M561.28 800.96L579.88 810.26L561.28 819.56Z" fill="#ff0000"/>
<path d="M564.8 801.19L583.4 810.49L564.8 819.79Z" fill="#ff0000"/>
<path d="M568.32 801.41L586.92 810.71L568.32 820.01Z" fill="#ff0000"/>
<path d="M571.84 801.62L590.44 810.92L571.84 820.22Z" fill="#ff0000"/>
<path d="M575.36 801.84L593.96 811.14L575.36 820.44Z" fill="#ff0000"/>
<path d="M578.88 802.06L597.48 811.36L578.88 820.66Z" fill="#ff0000"/>
<path d="M582.4 802.28L601 811.58L582.4 820.88Z" fill="#ff0000"/>
<path d="M585.92 802.5L604.52 811.8L585.92 821.1Z" fill="#ff0000"/>
<path d="M589.44 802.72L608.04 812.02L589.44 821.32Z" fill="#ff0000"/>
<path d="M592.96 802.94L611.56 812.24L592.96 821.54Z" fill="#ff0000"/>
<path d="M596.48 803.16L615.08 812.46L596.48 821.76Z" fill="#ff0000"/>
<path d="M600 803.38L618.6 812.68L600 821.98Z" fill="#ff0000"/>
<path d="M603.52 803.6L622.12 812.9L603.52 822.2Z" fill="#ff0000"/>
<path d="M607.04 803.78L625.64 813.08L607.04 822.38Z" fill="#ff0000"/>
<path d="M610.56 803.94L629.16 813.24L610.56 822.54Z" fill="#ff0000"/>
<path d="M614.08 804.1L632.68 813.4L614.08 822.7Z" fill="#ff0000"/>
<path d="M617.6 804.26L636.2 813.56L617.6 822.86Z" fill="#ff0000"/>
<path d="M621.12 804.42L639.72 813.72L621.12 823.02Z" fill="#ff0000"/>
<path d="M624.64 804.59L643.24 813.89L624.64 823.19Z" fill="#ff0000"/>
<path d="M628.16 804.75L646.76 814.05L628.16 823.35Z" fill="#ff0000"/>
<path d="M631.68 804.91L650.28 814.21L631.68 823.51Z" fill="#ff0000"/>
<path d="M635.2 805.07L653.8 814.37L635.2 823.67Z" fill="#ff0000"/>
<path d="M638.72 805.23L657.32 814.53L638.72 823.83Z" fill="#ff0000"/>
<path d="M642.24 805.39L660.84 814.69L642.24 823.99Z" fill="#ff0000"/>
<path d="M645.76 805.55L664.36 814.85L645.76 824.15Z" fill="#ff0000"/>
<path d="M649.28 805.69L667.88 814.99L649.28 824.29Z" fill="#ff0000"/>
<path d="M652.8 805.8L671.4 815.1L652.8 824.4Z" fill="#ff0000"/>
<path d="M656.32 805.92L674.92 815.22L656.32 824.52Z" fill="#ff0000"/>
<path d="M659.84 806.04L678.44 815.34L659.84 824.64Z" fill="#ff0000"/>
<path d="M663.36 806.16L681.96 815.46L663.36 824.76Z" fill="#ff0000"/>
<path d="M666.88 806.27L685.48 815.57L666.88 824.87Z" fill="#ff0000"/>
<path d="M670.4 806.39L689 815.69L670.4 824.99Z" fill="#ff0000"/>
<path d="M673.92 806.51L692.52 815.81L673.92 825.11Z" fill="#ff0000"/>
<path d="M677.44 806.63L696.04 815.93L677.44 825.23Z" fill="#ff0000"/>
<path d="M680.96 806.74L699.56 816.04L680.96 825.34Z" fill="#ff0000"/>
<path d="M684.48 806.86L703.08 816.16L684.48 825.46Z" fill="#ff0000"/>
<path d="M688 806.98L706.6 816.28L688 825.58Z" fill="#ff0000"/>
<path d="M691.52 807.1L710.12 816.4L691.52 825.7Z" fill="#ff0000"/>
<path d="M695.04 807.21L713.64 816.51L695.04 825.81Z" fill="#ff0000"/>
<path d="M698.56 807.33L717.16 816.63L698.56 825.93Z" fill="#ff0000"/>
<path d="M702.08 807.52L720.68 816.82L702.08 826.12Z" fill="#ff0000"/>
<path d="M705.6 807.76L724.2 817.06L705.6 826.36Z" fill="#ff0000"/>
<path d="M709.12 807.99L727.72 817.29L709.12 826.59Z" fill="#ff0000"/>
<path d="M712.64 808.23L731.24 817.53L712.64 826.83Z" fill="#ff0000"/>
<path d="M716.16 808.4L734.76 817.7L716.16 827Z" fill="#ff0000"/>
<path d="M719.68 808.52L738.28 817.82L719.68 827.12Z" fill="#ff0000"/>
<path d="M723.2 808.63L741.8 817.93L723.2 827.23Z" fill="#ff0000"/>
<path d="M726.72 808.76L745.32 818.06L726.72 827.36Z" fill="#ff0000"/>
<path d="M730.24 808.89L748.84 818.19L730.24 827.49Z" fill="#ff0000"/>
<path d="M733.76 809.02L752.36 818.32L733.76 827.62Z" fill="#ff0000"/>
<path d="M737.28 809.15L755.88 818.45L737.28 827.75Z" fill="#ff0000"/>
<path d="M740.8 809.28L759.4 818.58L740.8 827.88Z" fill="#ff0000"/>
<path d="M744.32 809.41L762.92 818.71L744.32 828.01Z" fill="#ff0000"/>
<path d="M747.84 809.54L766.44 818.84L747.84 828.14Z" fill="#ff0000"/>
<path d="M751.36 809.67L769.96 818.97L751.36 828.27Z" fill="#ff0000"/>
<path d="M754.88 809.79L773.48 819.09L754.88 828.39Z" fill="#ff0000"/>
<path d="M758.4 809.78L777 819.08L758.4 828.38Z" fill="#ff0000"/>
<path d="M761.92 809.76L780.52 819.06L761.92 828.36Z" fill="#ff0000"/>
<path d="M765.44 809.64L784.04 818.94L765.44 828.24Z" fill="#ff0000"/>
<path d="M768.96 809.53L787.56 818.83L768.96 828.13Z" fill="#ff0000"/>
<path d="M772.48 809.49L791.08 818.79L772.48 828.09Z" fill="#ff0000"/>
<path d="M776 809.58L794.6 818.88L776 828.18Z" fill="#ff0000"/>
<path d="M779.52 809.9L798.12 819.2L779.52 828.5Z" fill="#ff0000"/>
<path d="M783.04 810.22L801.64 819.52L783.04 828.82Z" fill="#ff0000"/>
<path d="M786.56 810.55L805.16 819.85L786.56 829.15Z" fill="#ff0000"/>
<path d="M790.08 810.9L808.68 820.2L790.08 829.5Z" fill="#ff0000"/>
<path d="M793.6 811.26L812.2 820.56L793.6 829.86Z" fill="#ff0000"/>
<path d="M797.12 811.5L815.72 820.8L797.12 830.1Z" fill="#ff0000"/>
</g>
<line x1="320.9" y1="517.8" x2="320.9" y2="700" stroke="#000" stroke-width="2"/>
<line x1="320" y1="699" x2="519.8" y2="699" stroke="#000" stroke-width="2"/>
<line x1="320.5" y1="518.3" x2="519.8" y2="518.3" stroke="#222" stroke-width="1.2"/>
<line x1="519.1" y1="518" x2="519.1" y2="699.5" stroke="#222" stroke-width="1.4"/>
<line x1="320.9" y1="647.2" x2="324.5" y2="647.2" stroke="#000" stroke-width="1.6"/>
<line x1="320.9" y1="595.7" x2="327.2" y2="595.7" stroke="#000" stroke-width="1.6"/>
<line x1="320.9" y1="544.2" x2="324.5" y2="544.2" stroke="#000" stroke-width="1.6"/>
<line x1="346.5" y1="699" x2="346.5" y2="692.5" stroke="#000" stroke-width="1.6"/>
<line x1="379.7" y1="699" x2="379.7" y2="695.5" stroke="#000" stroke-width="1.6"/>
<line x1="412.9" y1="699" x2="412.9" y2="692.5" stroke="#000" stroke-width="1.6"/>
<line x1="446.1" y1="699" x2="446.1" y2="695.5" stroke="#000" stroke-width="1.6"/>
<line x1="479.3" y1="699" x2="479.3" y2="692.5" stroke="#000" stroke-width="1.6"/>
<line x1="512.5" y1="699" x2="512.5" y2="695.5" stroke="#000" stroke-width="1.6"/>
<g clip-path="url(#cb1)">
<polyline points="334.8,552.6 361.1,571.2 387.2,595 414,631.7 440.3,648.9 465.7,664 492.2,676.1 518.5,686.8" fill="none" stroke="#0000ff" stroke-width="1.1"/>
<path d="M344.1 543.3L325.5 552.6L344.1 561.9Z" fill="#0000ff"/>
<path d="M370.4 561.9L351.8 571.2L370.4 580.5Z" fill="#0000ff"/>
<path d="M396.5 585.7L377.9 595L396.5 604.3Z" fill="#0000ff"/>
<path d="M423.3 622.4L404.7 631.7L423.3 641Z" fill="#0000ff"/>
<path d="M449.6 639.6L431 648.9L449.6 658.2Z" fill="#0000ff"/>
<path d="M475 654.7L456.4 664L475 673.3Z" fill="#0000ff"/>
<path d="M501.5 666.8L482.9 676.1L501.5 685.4Z" fill="#0000ff"/>
<path d="M527.8 677.5L509.2 686.8L527.8 696.1Z" fill="#0000ff"/>
<polyline points="334.2,547.4 360.5,563.8 387.2,582 413.8,600.3 440.4,631 466.4,655.7 492.3,675.5 519.5,686.6" fill="none" stroke="#ff0000" stroke-width="1.1"/>
<path d="M324.9 538.1L343.5 547.4L324.9 556.7Z" fill="#ff0000"/>
<path d="M351.2 554.5L369.8 563.8L351.2 573.1Z" fill="#ff0000"/>
<path d="M377.9 572.7L396.5 582L377.9 591.3Z" fill="#ff0000"/>
<path d="M404.5 591L423.1 600.3L404.5 609.6Z" fill="#ff0000"/>
<path d="M431.1 621.7L449.7 631L431.1 640.3Z" fill="#ff0000"/>
<path d="M457.1 646.4L475.7 655.7L457.1 665Z" fill="#ff0000"/>
<path d="M483 666.2L501.6 675.5L483 684.8Z" fill="#ff0000"/>
<path d="M510.2 677.3L528.8 686.6L510.2 695.9Z" fill="#ff0000"/>
</g>
<line x1="724" y1="517.8" x2="724" y2="700" stroke="#000" stroke-width="2"/>
<line x1="530.3" y1="699" x2="725" y2="699" stroke="#000" stroke-width="2"/>
<line x1="530.3" y1="518.3" x2="724.5" y2="518.3" stroke="#222" stroke-width="1.2"/>
<line x1="530.9" y1="518" x2="530.9" y2="699.5" stroke="#222" stroke-width="1.4"/>
<line x1="719" y1="692.05" x2="724" y2="692.05" stroke="#000" stroke-width="1.6"/>
<line x1="719" y1="657.37" x2="724" y2="657.37" stroke="#000" stroke-width="1.6"/>
<line x1="719" y1="622.7" x2="724" y2="622.7" stroke="#000" stroke-width="1.6"/>
<line x1="719" y1="588.03" x2="724" y2="588.03" stroke="#000" stroke-width="1.6"/>
<line x1="719" y1="553.35" x2="724" y2="553.35" stroke="#000" stroke-width="1.6"/>
<line x1="548.7" y1="699" x2="548.7" y2="692.5" stroke="#000" stroke-width="1.6"/>
<line x1="592.51" y1="699" x2="592.51" y2="695.5" stroke="#000" stroke-width="1.6"/>
<line x1="636.33" y1="699" x2="636.33" y2="692.5" stroke="#000" stroke-width="1.6"/>
<line x1="680.14" y1="699" x2="680.14" y2="695.5" stroke="#000" stroke-width="1.6"/>
<g clip-path="url(#cb2)">
<polyline points="533.63,536.01 540.64,540.87 547.65,546.41 554.66,550.58 561.67,555.43 568.68,560.29 575.69,565.83 582.7,569.99 589.71,574.85 596.72,580.4 603.73,585.94 610.74,587.33 617.75,582.48 624.76,576.93 631.77,572.07 638.78,570.69 645.79,574.5 652.8,581.78 659.81,591.49 666.82,601.2 673.83,614.03 680.84,624.78 687.85,636.57 694.86,646.97 701.87,659.46 708.88,671.94 715.89,685.81 722.9,693.44 729.91,698.98" fill="none" stroke="#0000ff" stroke-width="1.1"/>
<path d="M542.93 526.71L524.33 536.01L542.93 545.31Z" fill="#0000ff"/>
<path d="M549.94 531.57L531.34 540.87L549.94 550.17Z" fill="#0000ff"/>
<path d="M556.95 537.11L538.35 546.41L556.95 555.71Z" fill="#0000ff"/>
<path d="M563.96 541.28L545.36 550.58L563.96 559.88Z" fill="#0000ff"/>
<path d="M570.97 546.13L552.37 555.43L570.97 564.73Z" fill="#0000ff"/>
<path d="M577.98 550.99L559.38 560.29L577.98 569.59Z" fill="#0000ff"/>
<path d="M584.99 556.53L566.39 565.83L584.99 575.13Z" fill="#0000ff"/>
<path d="M592 560.69L573.4 569.99L592 579.29Z" fill="#0000ff"/>
<path d="M599.01 565.55L580.41 574.85L599.01 584.15Z" fill="#0000ff"/>
<path d="M606.02 571.1L587.42 580.4L606.02 589.7Z" fill="#0000ff"/>
<path d="M613.03 576.64L594.43 585.94L613.03 595.24Z" fill="#0000ff"/>
<path d="M620.04 578.03L601.44 587.33L620.04 596.63Z" fill="#0000ff"/>
<path d="M627.05 573.18L608.45 582.48L627.05 591.78Z" fill="#0000ff"/>
<path d="M634.06 567.63L615.46 576.93L634.06 586.23Z" fill="#0000ff"/>
<path d="M641.07 562.77L622.47 572.07L641.07 581.37Z" fill="#0000ff"/>
<path d="M648.08 561.39L629.48 570.69L648.08 579.99Z" fill="#0000ff"/>
<path d="M655.09 565.2L636.49 574.5L655.09 583.8Z" fill="#0000ff"/>
<path d="M662.1 572.48L643.5 581.78L662.1 591.08Z" fill="#0000ff"/>
<path d="M669.11 582.19L650.51 591.49L669.11 600.79Z" fill="#0000ff"/>
<path d="M676.12 591.9L657.52 601.2L676.12 610.5Z" fill="#0000ff"/>
<path d="M683.13 604.73L664.53 614.03L683.13 623.33Z" fill="#0000ff"/>
<path d="M690.14 615.48L671.54 624.78L690.14 634.08Z" fill="#0000ff"/>
<path d="M697.15 627.27L678.55 636.57L697.15 645.87Z" fill="#0000ff"/>
<path d="M704.16 637.67L685.56 646.97L704.16 656.27Z" fill="#0000ff"/>
<path d="M711.17 650.16L692.57 659.46L711.17 668.76Z" fill="#0000ff"/>
<path d="M718.18 662.64L699.58 671.94L718.18 681.24Z" fill="#0000ff"/>
<polyline points="534.68,545.03 541.69,549.19 548.7,554.39 555.71,559.59 562.72,564.45 569.73,569.3 576.74,574.15 583.75,579.7 590.76,584.56 597.77,589.41 604.78,594.96 611.79,599.81 618.8,600.51 625.81,596.35 632.82,591.49 639.83,588.72 646.84,589.41 653.85,599.12 660.86,608.62 667.87,618.82 674.88,629.7 681.89,641.15 688.9,653.08 695.91,666.88" fill="none" stroke="#ff0000" stroke-width="1.1"/>
<path d="M525.38 535.73L543.98 545.03L525.38 554.33Z" fill="#ff0000"/>
<path d="M532.39 539.89L550.99 549.19L532.39 558.49Z" fill="#ff0000"/>
<path d="M539.4 545.09L558 554.39L539.4 563.69Z" fill="#ff0000"/>
<path d="M546.41 550.29L565.01 559.59L546.41 568.89Z" fill="#ff0000"/>
<path d="M553.42 555.15L572.02 564.45L553.42 573.75Z" fill="#ff0000"/>
<path d="M560.43 560L579.03 569.3L560.43 578.6Z" fill="#ff0000"/>
<path d="M567.44 564.85L586.04 574.15L567.44 583.45Z" fill="#ff0000"/>
<path d="M574.45 570.4L593.05 579.7L574.45 589Z" fill="#ff0000"/>
<path d="M581.46 575.26L600.06 584.56L581.46 593.86Z" fill="#ff0000"/>
<path d="M588.47 580.11L607.07 589.41L588.47 598.71Z" fill="#ff0000"/>
<path d="M595.48 585.66L614.08 594.96L595.48 604.26Z" fill="#ff0000"/>
<path d="M602.49 590.51L621.09 599.81L602.49 609.11Z" fill="#ff0000"/>
<path d="M609.5 591.21L628.1 600.51L609.5 609.81Z" fill="#ff0000"/>
<path d="M616.51 587.05L635.11 596.35L616.51 605.65Z" fill="#ff0000"/>
<path d="M623.52 582.19L642.12 591.49L623.52 600.79Z" fill="#ff0000"/>
<path d="M630.53 579.42L649.13 588.72L630.53 598.02Z" fill="#ff0000"/>
<path d="M637.54 580.11L656.14 589.41L637.54 598.71Z" fill="#ff0000"/>
<path d="M644.55 589.82L663.15 599.12L644.55 608.42Z" fill="#ff0000"/>
<path d="M651.56 599.32L670.16 608.62L651.56 617.92Z" fill="#ff0000"/>
<path d="M658.57 609.52L677.17 618.82L658.57 628.12Z" fill="#ff0000"/>
<path d="M665.58 620.4L684.18 629.7L665.58 639Z" fill="#ff0000"/>
<path d="M672.59 631.85L691.19 641.15L672.59 650.45Z" fill="#ff0000"/>
<path d="M679.6 643.78L698.2 653.08L679.6 662.38Z" fill="#ff0000"/>
<path d="M686.61 657.58L705.21 666.88L686.61 676.18Z" fill="#ff0000"/>
</g>
<line x1="231.7" y1="608" x2="231.7" y2="645.5" stroke="#000" stroke-width="2.2"/><path d="M221.2 635L231.7 645.5L242.2 635" fill="none" stroke="#000" stroke-width="2.2"/>
<line x1="419.7" y1="559" x2="419.7" y2="595.5" stroke="#000" stroke-width="2.4"/><path d="M409.2 585L419.7 595.5L430.2 585" fill="none" stroke="#000" stroke-width="2.4"/>
<line x1="643.6" y1="636.5" x2="643.6" y2="599.5" stroke="#000" stroke-width="2.4"/><path d="M633.1 610L643.6 599.5L654.1 610" fill="none" stroke="#000" stroke-width="2.4"/>
<line x1="784.8" y1="768" x2="784.8" y2="806" stroke="#000" stroke-width="2.2"/><path d="M774.3 795.5L784.8 806L795.3 795.5" fill="none" stroke="#000" stroke-width="2.2"/>
<text x="106.5" y="381.5" font-size="40" text-anchor="end" fill="#000" stroke="#000" stroke-width="0.3" style="font-family:'Liberation Serif',serif" >0</text>
<text x="106.5" y="283.3" font-size="40" text-anchor="end" fill="#000" stroke="#000" stroke-width="0.3" style="font-family:'Liberation Serif',serif" >1</text>
<text x="106.5" y="170.5" font-size="40" text-anchor="end" fill="#000" stroke="#000" stroke-width="0.3" style="font-family:'Liberation Serif',serif" >2</text>
<text x="106.5" y="58.8" font-size="40" text-anchor="end" fill="#000" stroke="#000" stroke-width="0.3" style="font-family:'Liberation Serif',serif" >3</text>
<text x="117.2" y="431.8" font-size="40" text-anchor="middle" fill="#000" stroke="#000" stroke-width="0.3" style="font-family:'Liberation Serif',serif" >0</text>
<text x="326.85" y="431.8" font-size="40" text-anchor="middle" fill="#000" stroke="#000" stroke-width="0.3" style="font-family:'Liberation Serif',serif" >5</text>
<text x="536.5" y="431.8" font-size="40" text-anchor="middle" fill="#000" stroke="#000" stroke-width="0.3" style="font-family:'Liberation Serif',serif" >10</text>
<text x="746.15" y="431.8" font-size="40" text-anchor="middle" fill="#000" stroke="#000" stroke-width="0.3" style="font-family:'Liberation Serif',serif" >15</text>
<text x="406.5" y="475.6" font-size="40" text-anchor="start" fill="#000" stroke="#000" stroke-width="0.3" style="font-family:'Liberation Serif',serif" >H (kOe)</text>
<text transform="translate(55,285.3) rotate(-90)" font-size="40.3" stroke="#000" stroke-width="0.3" style="font-family:'Liberation Serif',serif">M (μ<tspan font-size="26" dy="8">B</tspan><tspan dy="-8">/f.u.)</tspan></text>
<text x="516" y="111" font-size="40" text-anchor="end" fill="#000" stroke="#000" stroke-width="0.3" style="font-family:'Liberation Serif',serif" >0.4</text>
<text x="516" y="210.3" font-size="40" text-anchor="end" fill="#000" stroke="#000" stroke-width="0.3" style="font-family:'Liberation Serif',serif" >0.2</text>
<text x="516" y="304.5" font-size="40" text-anchor="end" fill="#000" stroke="#000" stroke-width="0.3" style="font-family:'Liberation Serif',serif" >0</text>
<text x="526" y="356" font-size="40" text-anchor="middle" fill="#000" stroke="#000" stroke-width="0.3" style="font-family:'Liberation Serif',serif" >0</text>
<text x="639" y="356" font-size="40" text-anchor="middle" fill="#000" stroke="#000" stroke-width="0.3" style="font-family:'Liberation Serif',serif" >2</text>
<text x="752" y="356" font-size="40" text-anchor="middle" fill="#000" stroke="#000" stroke-width="0.3" style="font-family:'Liberation Serif',serif" >4</text>
<text transform="translate(788.5,34.8) scale(0.84,1)" font-size="50.5" fill="#000" stroke="#000" stroke-width="0.5" style="font-family:'Liberation Sans',sans-serif;font-weight:bold">a</text>
<text x="158" y="112.6" font-size="56" stroke="#000" stroke-width="0.3" style="font-family:'Liberation Serif',serif">Fe<tspan font-size="33" dy="13">3</tspan><tspan dy="-13">Ga</tspan><tspan font-size="33" dy="13">4</tspan></text>
<text x="182.5" y="174.4" font-size="48" text-anchor="start" fill="#ff0000" stroke="#ff0000" stroke-width="0.3" style="font-family:'Liberation Serif',serif" >H</text>
<rect x="232.4" y="142.1" width="3.9" height="32.5" fill="#ff0000"/><rect x="241.9" y="142.1" width="4" height="32.5" fill="#ff0000"/>
<text transform="translate(261.5,174.4) scale(0.87,1)" font-size="50" fill="#ff0000" stroke="#ff0000" stroke-width="0.5" style="font-family:'Liberation Sans',sans-serif;font-weight:bold">a</text>
<text x="182.5" y="222.4" font-size="48" text-anchor="start" fill="#0000ff" stroke="#0000ff" stroke-width="0.3" style="font-family:'Liberation Serif',serif" >H</text>
<rect x="232.4" y="190.1" width="3.9" height="32.5" fill="#0000ff"/><rect x="241.9" y="190.1" width="4" height="32.5" fill="#0000ff"/>
<text transform="translate(260.2,222.4) scale(0.9,1)" font-size="48.5" fill="#0000ff" stroke="#0000ff" stroke-width="0.5" style="font-family:'Liberation Sans',sans-serif;font-weight:bold">b</text>
<text x="182.5" y="270.4" font-size="48" text-anchor="start" fill="#00ff00" stroke="#00ff00" stroke-width="0.3" style="font-family:'Liberation Serif',serif" >H</text>
<rect x="232.4" y="238.1" width="3.9" height="32.5" fill="#00ff00"/><rect x="241.9" y="238.1" width="4" height="32.5" fill="#00ff00"/>
<text transform="translate(261.5,270.4) scale(1.0,1)" font-size="50" fill="#00ff00" stroke="#00ff00" stroke-width="0.5" style="font-family:'Liberation Sans',sans-serif;font-weight:bold">c</text>
<circle cx="162.9" cy="162.9" r="10.6" fill="#ff0000"/>
<path d="M162.9 198.4L175.5 211L162.9 223.6L150.3 211Z" fill="#0000ff"/>
<path d="M162.9 246.4L175.5 270.4L150.3 270.4Z" fill="#00ff00"/>
<text x="106.5" y="905" font-size="40" text-anchor="end" fill="#000" stroke="#000" stroke-width="0.3" style="font-family:'Liberation Serif',serif" >0</text>
<text x="106.5" y="829.7" font-size="40" text-anchor="end" fill="#000" stroke="#000" stroke-width="0.3" style="font-family:'Liberation Serif',serif" >5</text>
<text x="106.5" y="741.8" font-size="40" text-anchor="end" fill="#000" stroke="#000" stroke-width="0.3" style="font-family:'Liberation Serif',serif" >10</text>
<text x="106.5" y="653.3" font-size="40" text-anchor="end" fill="#000" stroke="#000" stroke-width="0.3" style="font-family:'Liberation Serif',serif" >15</text>
<text x="106.5" y="565.2" font-size="40" text-anchor="end" fill="#000" stroke="#000" stroke-width="0.3" style="font-family:'Liberation Serif',serif" >20</text>
<text x="117" y="955.5" font-size="40" text-anchor="middle" fill="#000" stroke="#000" stroke-width="0.3" style="font-family:'Liberation Serif',serif" >0</text>
<text x="293" y="955.5" font-size="40" text-anchor="middle" fill="#000" stroke="#000" stroke-width="0.3" style="font-family:'Liberation Serif',serif" >100</text>
<text x="469" y="955.5" font-size="40" text-anchor="middle" fill="#000" stroke="#000" stroke-width="0.3" style="font-family:'Liberation Serif',serif" >200</text>
<text x="645" y="955.5" font-size="40" text-anchor="middle" fill="#000" stroke="#000" stroke-width="0.3" style="font-family:'Liberation Serif',serif" >300</text>
<text x="821" y="955.5" font-size="40" text-anchor="middle" fill="#000" stroke="#000" stroke-width="0.3" style="font-family:'Liberation Serif',serif" >400</text>
<text x="422" y="1000" font-size="40" text-anchor="start" fill="#000" stroke="#000" stroke-width="0.3" style="font-family:'Liberation Serif',serif" >T (K)</text>
<text transform="translate(33.3,813) rotate(-90)" font-size="40" stroke="#000" stroke-width="0.3" style="font-family:'Liberation Serif',serif">σ 10<tspan font-size="26" dy="-14">3</tspan><tspan dy="14">(Ω cm)</tspan><tspan font-size="26" dy="-14">−1</tspan></text>
<text x="791" y="546.2" font-size="48" text-anchor="start" fill="#000" stroke="#000" stroke-width="0.3" style="font-family:'Liberation Sans',sans-serif;font-weight:bold" >b</text>
<path d="M173.1 784.5L154.5 793.8L173.1 803.1Z" fill="#0000ff"/>
<path d="M154.2 829.2L172.8 838.5L154.2 847.8Z" fill="#ff0000"/>
<text x="178" y="803.8" font-size="48" text-anchor="start" fill="#0000ff" stroke="#0000ff" stroke-width="0.3" style="font-family:'Liberation Serif',serif" letter-spacing="0.45">Cooling</text>
<text x="178.5" y="853.2" font-size="48" text-anchor="start" fill="#ff0000" stroke="#ff0000" stroke-width="0.3" style="font-family:'Liberation Serif',serif" letter-spacing="0.9">Warming</text>
<text x="232.2" y="626" font-size="40" stroke="#000" stroke-width="0.3" style="font-family:'Liberation Serif',serif">T<tspan font-size="25" dy="9">1</tspan></text>
<text x="406.5" y="554.5" font-size="40" stroke="#000" stroke-width="0.3" style="font-family:'Liberation Serif',serif">T<tspan font-size="25" dy="9">1</tspan></text>
<text x="630.4" y="666.5" font-size="40" stroke="#000" stroke-width="0.3" style="font-family:'Liberation Serif',serif">T<tspan font-size="25" dy="9">2</tspan></text>
<text x="784" y="785.5" font-size="40" stroke="#000" stroke-width="0.3" style="font-family:'Liberation Serif',serif">T<tspan font-size="25" dy="9">2</tspan></text>
<text x="309.5" y="609.5" font-size="40" text-anchor="end" fill="#000" stroke="#000" stroke-width="0.3" style="font-family:'Liberation Serif',serif" >14</text>
<text x="309.5" y="699.3" font-size="40" text-anchor="end" fill="#000" stroke="#000" stroke-width="0.3" style="font-family:'Liberation Serif',serif" >12</text>
<text x="346.5" y="747.2" font-size="40" text-anchor="middle" fill="#000" stroke="#000" stroke-width="0.3" style="font-family:'Liberation Serif',serif" >55</text>
<text x="412.9" y="747.2" font-size="40" text-anchor="middle" fill="#000" stroke="#000" stroke-width="0.3" style="font-family:'Liberation Serif',serif" >60</text>
<text x="479.3" y="747.2" font-size="40" text-anchor="middle" fill="#000" stroke="#000" stroke-width="0.3" style="font-family:'Liberation Serif',serif" >65</text>
<text x="733.5" y="567.8" font-size="40" text-anchor="start" fill="#000" stroke="#000" stroke-width="0.3" style="font-family:'Liberation Serif',serif" >4.9</text>
<text x="733.5" y="637.2" font-size="40" text-anchor="start" fill="#000" stroke="#000" stroke-width="0.3" style="font-family:'Liberation Serif',serif" >4.8</text>
<text x="733.5" y="698.2" font-size="40" text-anchor="start" fill="#000" stroke="#000" stroke-width="0.3" style="font-family:'Liberation Serif',serif" >4.7</text>
<text x="548.7" y="750" font-size="40" text-anchor="middle" fill="#000" stroke="#000" stroke-width="0.3" style="font-family:'Liberation Serif',serif" >350</text>
<text x="636.33" y="750" font-size="40" text-anchor="middle" fill="#000" stroke="#000" stroke-width="0.3" style="font-family:'Liberation Serif',serif" >375</text>
<text x="723.95" y="750" font-size="40" text-anchor="middle" fill="#000" stroke="#000" stroke-width="0.3" style="font-family:'Liberation Serif',serif" >400</text>
</svg></body></html>
